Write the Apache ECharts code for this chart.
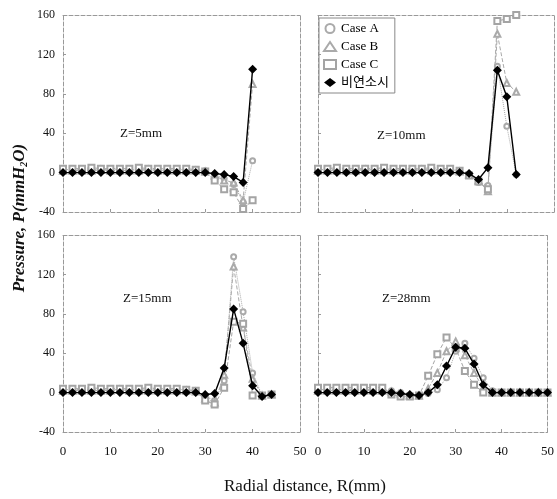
<!DOCTYPE html>
<html lang="ko">
<head>
    <meta charset="UTF-8">
    <title>Pressure distribution</title>
    <script type="text/javascript" src="https://cdn.jsdelivr.net/npm/echarts@6.0.0/dist/echarts.min.js"></script>
    <style>
        html, body { margin: 0; padding: 0; background: #fff; }
    </style>
</head>

<body>
<div id="chartmain" style="width:557px;height:499px"></div>
<script>
    var xTicks = [0, 10, 20, 30, 40, 50];
    var yTicks = [-40, 0, 40, 80, 120, 160];
    var caseNames = ['Case A', 'Case B', 'Case C', '비연소시'];
    var panelNames = ['Z=5mm', 'Z=10mm', 'Z=15mm', 'Z=28mm'];

    // Z=5mm
    var r5 = [0,2,4,6,8,10,12,14,16,18,20,22,24,26,28,30,32,34,36,38,40];
    var a5 = [3,3,4,3,3,3,4,3,3,3,4,3,3,3,3,2,-2,-6,-12,-30,12];
    var b5 = [2,2,2,2,3,2,2,2,2,3,2,2,2,2,2,1,-3,-8,-10,-28,90];
    var c5 = [4,4,4,5,4,4,4,4,5,4,4,4,4,4,3,1,-8,-17,-20,-37,-28];
    var d5 = [0,0,0,0,0,0,0,0,0,0,0,0,0,0,0,0,-1,-2,-4,-10,105];

    // Z=10mm
    var r10 = [0,2,4,6,8,10,12,14,16,18,20,22,24,26,28,30,32,34,36,38,40,42];
    var a10 = [3,3,3,4,3,3,3,3,4,3,3,3,3,3,3,2,-3,-10,-13,108,47,-2];
    var b10 = [2,2,2,2,2,3,2,2,2,2,2,3,2,2,2,1,-2,-8,-19,141,91,82];
    var c10 = [4,4,5,4,4,4,4,5,4,4,4,4,5,4,4,2,-3,-9,-17,154,156,160];
    var d10 = [0,0,0,0,0,0,0,0,0,0,0,0,0,0,0,0,-1,-7,5,104,77,-2];

    // Z=15mm
    var r15 = [0,2,4,6,8,10,12,14,16,18,20,22,24,26,28,30,32,34,36,38,40,42,44];
    var a15 = [3,3,3,3,4,3,3,3,3,4,3,3,3,3,2,-4,-8,12,138,82,20,-3,-2];
    var b15 = [2,2,2,2,2,2,3,2,2,2,2,2,2,2,1,-6,-10,18,128,66,14,-3,-2];
    var c15 = [4,4,4,5,4,4,4,4,4,5,4,4,4,3,2,-8,-12,5,72,70,-3,-3,-2];
    var d15 = [0,0,0,0,0,0,0,0,0,0,0,0,0,0,0,-2,-1,25,85,50,7,-4,-2];

    // Z=28mm
    var r28 = [0,2,4,6,8,10,12,14,16,18,20,22,24,26,28,30,32,34,36,38,40,42,44,46,48,50];
    var a28 = [3,3,3,3,3,3,3,3,2,0,-3,-4,-1,3,15,42,50,35,15,2,0,0,0,0,0,0];
    var b28 = [2,2,2,2,2,2,2,2,1,-1,-3,-3,4,20,42,52,38,20,5,0,0,0,0,0,0,0];
    var c28 = [5,5,5,5,5,5,5,5,-2,-4,-4,-3,17,39,56,45,22,8,0,0,0,0,0,0,0,0];
    var d28 = [0,0,0,0,0,0,0,0,0,-1,-2,-3,0,8,27,46,45,29,8,0,0,0,0,0,0,0];

    var radii = [r5, r10, r15, r28];
    var values = [
        [a5, b5, c5, d5],
        [a10, b10, c10, d10],
        [a15, b15, c15, d15],
        [a28, b28, c28, d28]
    ];

    var serif = "'Liberation Serif', 'Noto Sans CJK KR', serif";

    var grids = [
        {left: 63, top: 15, width: 237, height: 197},
        {left: 318, top: 15, width: 236, height: 197},
        {left: 63, top: 235, width: 237, height: 197},
        {left: 318, top: 235, width: 236, height: 197}
    ];
    var labelPos = [[145, 135], [402, 137], [148, 300], [407, 300]];

    var frameLine = {show: true, onZero: false, lineStyle: {color: '#999', type: 'dashed', width: 1}};

    var xAxis = [];
    var yAxis = [];
    var series = [];
    var graphic = [];

    // case styles: A dotted circles, B dashed triangles, C dashed squares, 비연소시 solid diamonds
    var symbols = ['emptyCircle', 'emptyTriangle', 'emptyRect', 'diamond'];
    var sizes = [5, 6, 6, 9];
    var lineTypes = ['dotted', 'dashed', [4, 2], 'solid'];
    var colors = ['#aaa', '#aaa', '#a4a4a4', '#000'];

    for (var i = 0; i < 4; i++) {
        xAxis.push({
            gridIndex: i, type: 'value', min: xTicks[0], max: xTicks[xTicks.length - 1], interval: 10,
            position: 'bottom', axisLine: frameLine,
            axisTick: {show: true, inside: true, length: 3, lineStyle: {color: '#999'}},
            splitLine: {show: false},
            axisLabel: {show: i >= 2, margin: 13, color: '#111', fontFamily: serif, fontSize: 13}
        });
        xAxis.push({
            gridIndex: i, type: 'value', min: 0, max: 50, position: 'top', axisLine: frameLine,
            axisTick: {show: false}, axisLabel: {show: false}, splitLine: {show: false}
        });
        yAxis.push({
            gridIndex: i, type: 'value', min: yTicks[0], max: yTicks[yTicks.length - 1], interval: 40,
            position: 'left', axisLine: frameLine,
            axisTick: {show: true, inside: true, length: 3, lineStyle: {color: '#999'}},
            splitLine: {show: false},
            axisLabel: {show: i % 2 === 0, margin: 8, color: '#111', fontFamily: serif, fontSize: 12}
        });
        yAxis.push({
            gridIndex: i, type: 'value', min: -40, max: 160, position: 'right', axisLine: frameLine,
            axisTick: {show: false}, axisLabel: {show: false}, splitLine: {show: false}
        });

        for (var k = 0; k < 4; k++) {
            var r = radii[i];
            var v = values[i][k];
            var pts = [];
            for (var j = 0; j < r.length; j++) {
                pts.push([r[j], v[j]]);
            }
            series.push({
                name: caseNames[k],
                type: 'line',
                xAxisIndex: 2 * i,
                yAxisIndex: 2 * i,
                data: pts,
                symbol: symbols[k],
                symbolSize: sizes[k],
                z: k === 3 ? 5 : 2,
                itemStyle: {color: colors[k], borderColor: colors[k], borderWidth: k === 3 ? 0 : 1},
                lineStyle: {color: colors[k], type: lineTypes[k], width: k === 3 ? 1.4 : 1},
                animation: false
            });
        }

        graphic.push({
            type: 'text', left: labelPos[i][0] - 25, top: labelPos[i][1] - 8,
            style: {text: panelNames[i], fill: '#111', font: '13px ' + serif}
        });
    }

    graphic.push({
        type: 'text', x: 20, y: 218, rotation: Math.PI / 2,
        style: {
            text: '{m|Pressure, P(mmH}{s|2}{m|O)}',
            align: 'center', verticalAlign: 'middle',
            rich: {
                m: {font: 'italic bold 17px ' + serif, fill: '#111'},
                s: {font: 'italic bold 10px ' + serif, fill: '#111', padding: [8, 0, 0, 0]}
            }
        }
    });
    graphic.push({
        type: 'text', x: 305, y: 487,
        style: {text: 'Radial distance, R(mm)', align: 'center', verticalAlign: 'middle', fill: '#111', font: '17px ' + serif}
    });

    var option = {
        backgroundColor: '#fff',
        animation: false,
        grid: grids,
        xAxis: xAxis,
        yAxis: yAxis,
        legend: {
            orient: 'vertical',
            left: 319,
            top: 18,
            itemWidth: 12,
            itemHeight: 9,
            itemGap: 5,
            padding: [4, 6, 4, 4],
            borderColor: '#888',
            borderWidth: 1,
            textStyle: {fontFamily: serif, fontSize: 13, color: '#000'},
            data: [
                {name: 'Case A', icon: 'emptyCircle'},
                {name: 'Case B', icon: 'emptyTriangle'},
                {name: 'Case C', icon: 'emptyRect'},
                {name: '비연소시', icon: 'diamond'}
            ]
        },
        graphic: graphic,
        series: series
    };

    var myChart = echarts.init(document.getElementById('chartmain'));
    myChart.setOption(option);
</script>
</body>
</html>
